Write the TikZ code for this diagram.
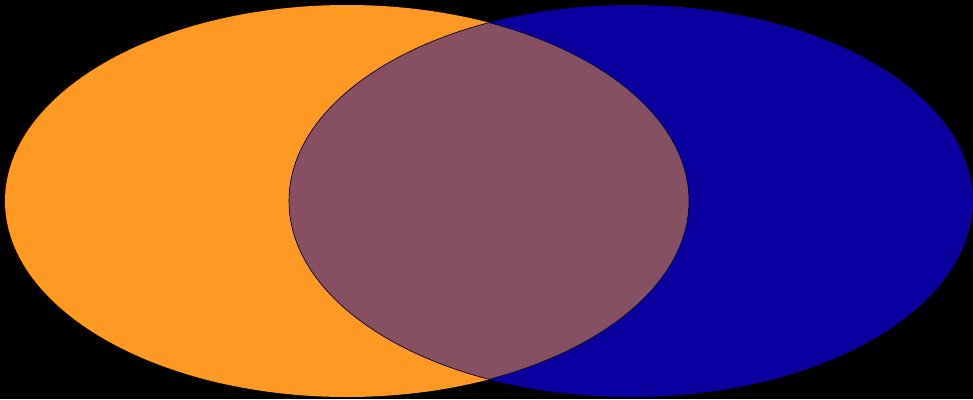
\documentclass[tikz,border=0pt]{standalone}
\definecolor{vennorange}{HTML}{FF9922}
\definecolor{vennblue}{HTML}{0A00A0}
\definecolor{vennmix}{HTML}{874F62}
\begin{document}
\begin{tikzpicture}[x=1pt, y=-1pt]
\fill[black] (0,0) rectangle (973,399);
\useasboundingbox (0,0) rectangle (973,399);
\fill[vennorange] (347,201) ellipse[x radius=342, y radius=196];
\fill[vennblue] (631,201) ellipse[x radius=342, y radius=196];
\begin{scope}
\clip (347,201) ellipse[x radius=342, y radius=196];
\fill[vennmix] (631,201) ellipse[x radius=342, y radius=196];
\end{scope}
\begin{scope}
\clip (347,201) ellipse[x radius=342, y radius=196];
\draw[black, line width=0.6pt] (631,201) ellipse[x radius=342, y radius=196];
\end{scope}
\begin{scope}
\clip (631,201) ellipse[x radius=342, y radius=196];
\draw[black, line width=0.6pt] (347,201) ellipse[x radius=342, y radius=196];
\end{scope}
\end{tikzpicture}
\end{document}
